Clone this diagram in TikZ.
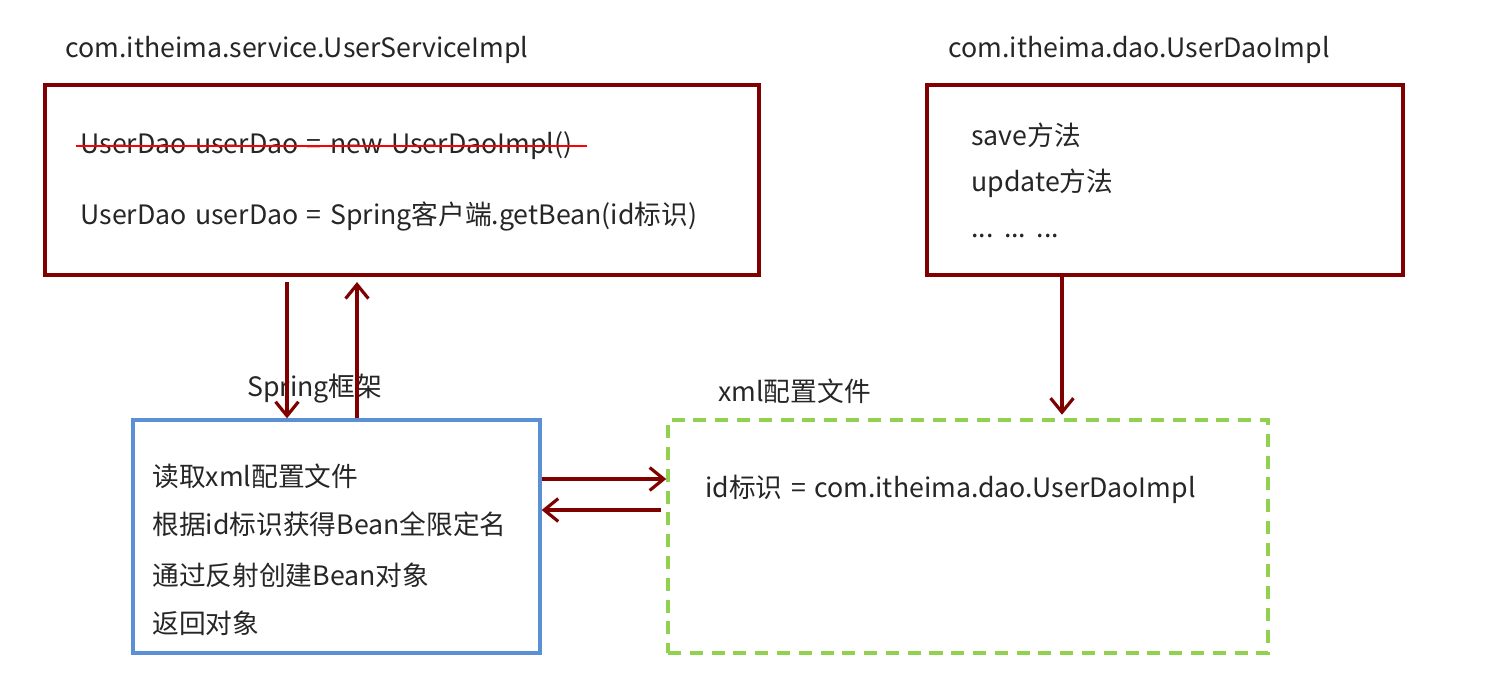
\documentclass[tikz,border=0pt]{standalone}
\usepackage{fontspec}
\setmainfont[WordSpace=1.4]{Noto Sans CJK SC}
\usepackage{tikz}
\usetikzlibrary{arrows.meta, positioning}
\definecolor{darkred}{RGB}{128,0,0}
\definecolor{boxblue}{RGB}{91,143,214}
\definecolor{boxgreen}{RGB}{146,208,80}
\definecolor{txt}{RGB}{38,38,38}
\tikzset{
		classbox/.style={draw=darkred, line width=2pt, rectangle, minimum height=3.8cm},
		springbox/.style={draw=boxblue, line width=1.9pt, rectangle, minimum width=8.14cm, minimum height=4.66cm},
		xmlbox/.style={draw=boxgreen, line width=2pt, dash pattern=on 7.4pt off 5pt, rectangle, minimum width=12cm, minimum height=4.66cm},
		lbl/.style={anchor=west, inner sep=0pt, text=txt, font=\fontsize{15.2pt}{18pt}\selectfont},
		flow/.style={draw=darkred, line width=1.8pt},
		strike/.style={draw=red, line width=1.3pt}
	}
\begin{document}
\begin{tikzpicture}[>={Straight Barb[length=8pt,width=13pt]}]
				\useasboundingbox (0,0) rectangle (29.88,-13.86);
				\node[classbox, minimum width=14.28cm] (svc) at (8.04,-3.6)   {};
				\node[classbox, minimum width=9.52cm]  (dao) at (23.3,-3.6)   {};
				\node[springbox]                       (spr) at (6.73,-10.73) {};
				\node[xmlbox]                          (xml) at (19.36,-10.73) {};
				\node[lbl] (svcname) at (1.3,-1)   {com.itheima.service.UserServiceImpl};
				\node[lbl] (daoname) at (18.96,-1) {com.itheima.dao.UserDaoImpl};
				\node[lbl] (sprname) at (4.94,-7.78)  {Spring框架};
				\node[lbl] (xmlname) at (14.36,-7.82) {xml配置文件};
				\node[lbl] (old)    at (1.6,-2.92)  {UserDao userDao = new UserDaoImpl()};
				\node[lbl] (new)    at (1.6,-4.32)  {UserDao userDao = Spring客户端.getBean(id标识)};
				\node[lbl] (save)   at (19.42,-2.7)  {save方法};
				\node[lbl] (update) at (19.42,-3.66) {update方法};
				\node[lbl] (dots)   at (19.42,-4.72) {... ... ...};
				\node[lbl] (read)   at (3.04,-9.52)  {读取xml配置文件};
				\node[lbl] (getname) at (3.04,-10.48) {根据id标识获得Bean全限定名};
				\node[lbl] (reflect) at (3.04,-11.5)  {通过反射创建Bean对象};
				\node[lbl] (ret)    at (3.04,-12.46) {返回对象};
				\node[lbl] (idmap)  at (14.1,-9.78)  {id标识 = com.itheima.dao.UserDaoImpl};
				\draw[strike] ([xshift=-2pt]old.west) -- ([xshift=8pt]old.east);
				\coordinate (down) at (5.74,0);
				\coordinate (up)   at (7.14,0);
				\coordinate (to)   at (0,-9.58);
				\coordinate (back) at (0,-10.2);
				\coordinate (impl) at (21.24,0);
				\draw[flow, ->, shorten <=3pt] (svc.south -| down) -- (spr.north -| down);
				\draw[flow, ->, shorten >=3pt] (spr.north -| up) -- (svc.south -| up);
				\draw[flow, ->] (spr.east |- to) -- (xml.west |- to);
				\draw[flow, ->, shorten <=3pt] (xml.west |- back) -- (spr.east |- back);
				\draw[flow, ->, shorten >=2pt] (dao.south -| impl) -- (xml.north -| impl);
			\end{tikzpicture}
\end{document}
